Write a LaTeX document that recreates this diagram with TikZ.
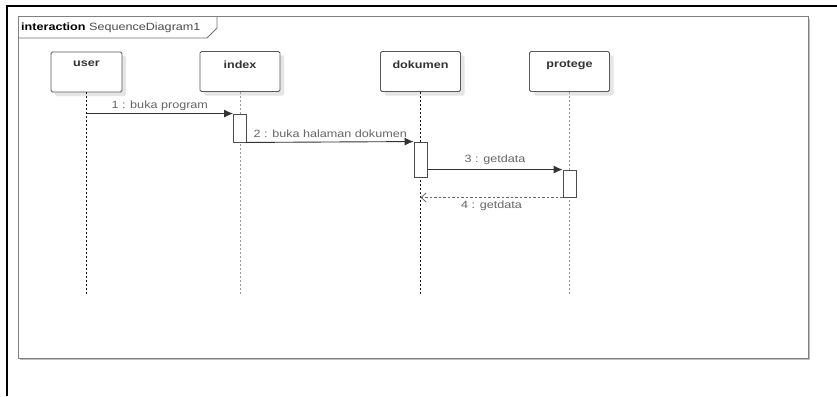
\documentclass[tikz,border=0pt]{standalone}
\usepackage{fontspec}
\setmainfont{Liberation Sans}[FakeStretch=1.2]
\usetikzlibrary{arrows.meta,calc,shadows}
\begin{document}
\begin{tikzpicture}[x=1pt,y=-1pt,
  every node/.style={font=\fontsize{10.5pt}{12pt}\selectfont},
  lifebox/.style={draw=black!65, line width=0.9pt, fill=white, rounded corners=1.5pt,
    minimum width=80pt, minimum height=40pt, inner sep=0pt,
    drop shadow={shadow xshift=4pt, shadow yshift=-4pt, fill=black!10, opacity=1}},
  boxlabel/.style={anchor=north, inner sep=0pt, yshift=-9.5pt, text=black!80, font=\fontsize{10.5pt}{12pt}\selectfont\bfseries},
  lifedark/.style={draw=black!90, line width=0.8pt, dash pattern=on 2pt off 2pt},
  lifelight/.style={draw=black!40, line width=0.8pt, dash pattern=on 2pt off 2pt},
  act/.style={draw=black!70, line width=0.9pt, fill=white, minimum width=13pt, inner sep=0pt},
  msg/.style={draw=black!80, line width=0.9pt, -{Latex[length=9pt,width=8pt]}},
  ret/.style={draw=black!60, line width=0.8pt, dash pattern=on 2.5pt off 2pt, -{Straight Barb[length=5pt,width=9pt]}},
  msglabel/.style={text=black!60, inner sep=1.5pt}]
\useasboundingbox (0,0) rectangle (837,396);
% outer frame
\draw[line width=2.5pt, black] (7,396) -- (7,6) -- (837,6);
% inner frame
\draw[draw=black!50, line width=1pt, fill=white,
  drop shadow={shadow xshift=2pt, shadow yshift=-2pt, fill=black!25, opacity=1}]
  (18,17) rectangle (808,358);
\draw[draw=black!55, line width=0.9pt] (18,38) -- (207,38) -- (217,28) -- (217,17);
\node[anchor=west, inner sep=0pt] (title) at (21,28) {\textbf{interaction} \textcolor{black!70}{SequenceDiagram1}};
% lifeline heads
\node[lifebox, minimum width=71pt, label={[boxlabel]north:user}] (user) at (86.5,72) {};
\node[lifebox, label={[boxlabel]north:index}] (index) at (240,71.5) {};
\node[lifebox, label={[boxlabel]north:dokumen}] (dokumen) at (420.5,71.5) {};
\node[lifebox, label={[boxlabel]north:protege}] (protege) at (569.5,71.5) {};
% lifeline ends
\coordinate (ue) at (user.south |- 0,294);
\coordinate (ie) at (index.south |- 0,294);
\coordinate (de) at (dokumen.south |- 0,294);
\coordinate (pe) at (protege.south |- 0,294);
\draw[lifedark] (user.south) -- (ue);
\draw[lifelight] (index.south) -- (ie);
\draw[lifedark] (dokumen.south) -- (de);
\draw[lifelight] (protege.south) -- (pe);
% activations
\node[act, minimum height=28pt] (ai) at (240,128) {};
\node[act, minimum height=35pt] (ad) at (420.5,159.5) {};
\node[act, minimum height=27pt] (ap) at (569.5,183.5) {};
% messages
\draw[msg] (user.south |- ai.north) -- (ai.north west)
  node[msglabel, midway, above=1pt] (m1) {1 : buka program};
\draw[msg] (ai.south east) -- (ad.north west)
  node[msglabel, midway, above=2pt] (m2) {2 : buka halaman dokumen};
\draw[msg] (ad.east |- ap.north) -- (ap.north west)
  node[msglabel, midway, above=3pt] (m3) {3 : getdata};
\draw[ret] (ap.south west) -- (ap.south west -| dokumen.south)
  node[msglabel, midway, below=2pt] (m4) {4 : getdata};
\end{tikzpicture}
\end{document}
